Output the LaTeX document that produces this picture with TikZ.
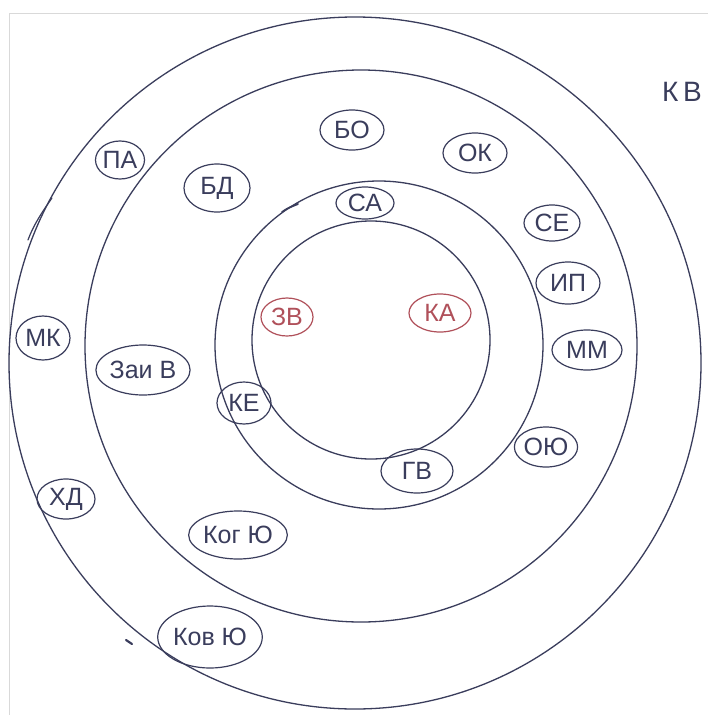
\documentclass[tikz,border=0pt]{standalone}
\usepackage{fontspec}
\setmainfont{Liberation Sans}
\usetikzlibrary{shapes.geometric}
\definecolor{ink}{HTML}{3A3D5C}
\definecolor{redink}{HTML}{B0505A}
\begin{document}
\begin{tikzpicture}[x=1pt,y=-1pt,
  lab/.style={ellipse, draw=ink, line width=1.2pt, inner sep=0pt, text=ink, font=\fontsize{25}{27}\selectfont},
  redlab/.style={lab, draw=redink, text=redink},
  ring/.style={draw=ink, line width=1.3pt},
  penstroke/.style={draw=ink, line width=1.2pt, line cap=round}]
\useasboundingbox (0,0) rectangle (708,715);
\fill[white] (0,0) rectangle (708,715);
\draw[gray!30, line width=1pt] (9,715) -- (9,13) -- (708,13);
% rings
\coordinate (c1) at (355,363);
\coordinate (c2) at (361,346);
\coordinate (c3) at (379,345);
\coordinate (c4) at (371,340);
\draw[ring] (c1) circle[radius=346pt];
\draw[ring] (c2) circle[radius=276pt];
\draw[ring] (c3) circle[radius=164pt];
\draw[ring] (c4) circle[radius=119pt];
% labels
\node[lab, minimum width=48pt, minimum height=38pt] (pa) at (120,160) {ПА};
\node[lab, minimum width=66pt, minimum height=48pt] (bd) at (217,188) {БД};
\node[lab, minimum width=64pt, minimum height=40pt] (bo) at (352,130) {БО};
\node[lab, minimum width=64pt, minimum height=40pt] (ok) at (475,153) {ОК};
\node[lab, minimum width=58pt, minimum height=32pt] (sa) at (365,203) {СА};
\node[lab, minimum width=56pt, minimum height=36pt] (se) at (552,223) {СЕ};
\node[lab, minimum width=64pt, minimum height=42pt] (ip) at (568,283) {ИП};
\node[lab, minimum width=70pt, minimum height=40pt] (mm) at (587,350) {ММ};
\node[lab, minimum width=62pt, minimum height=40pt] (oyu) at (546,447) {ОЮ};
\node[lab, minimum width=72pt, minimum height=44pt] (gv) at (417,471) {ГВ};
\node[lab, minimum width=54pt, minimum height=42pt] (ke) at (244,403) {КЕ};
\node[redlab, minimum width=52pt, minimum height=38pt] (zv) at (287,317) {ЗВ};
\node[redlab, minimum width=62pt, minimum height=38pt] (ka) at (440,313) {КА};
\node[lab, minimum width=54pt, minimum height=44pt] (mk) at (43,338) {МК};
\node[lab, minimum width=88pt, minimum height=50pt] (zaiv) at (143,370) {Заи В};
\node[lab, minimum width=58pt, minimum height=40pt] (hd) at (66,499) {ХД};
\node[lab, minimum width=94pt, minimum height=48pt] (kogyu) at (238,535) {Ког Ю};
\node[lab, minimum width=100pt, minimum height=62pt] (kovyu) at (210,637) {Ков Ю};
\node[text=ink, font=\fontsize{28}{30}\selectfont, inner sep=0pt] (kv) at (682,92) {К\,В};
% stray pen marks
\draw[penstroke] (52,198) .. controls (42,212) and (33,226) .. (28,240);
\draw[penstroke, line width=2.2pt] (126,640) -- (132,644);
\draw[penstroke, line width=1.8pt] (282,212) .. controls (288,208) .. (298,204);
\end{tikzpicture}
\end{document}
